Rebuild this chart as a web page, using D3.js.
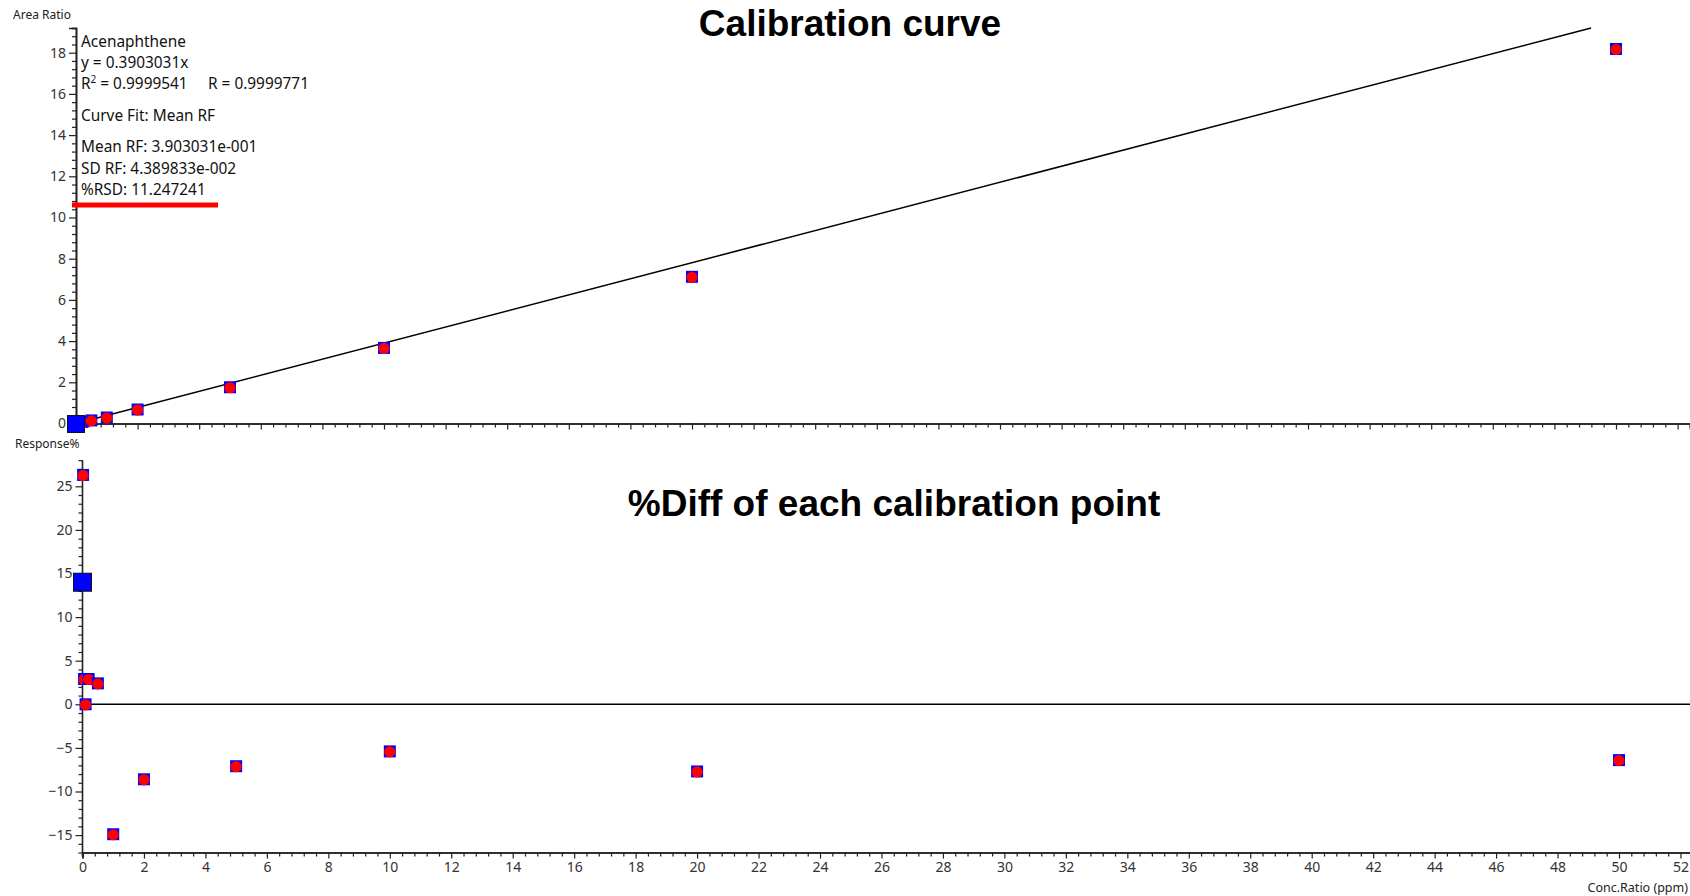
<!DOCTYPE html>
<html>
<head>
<meta charset="utf-8">
<script src="https://cdn.jsdelivr.net/npm/d3@7"></script>
<style>
  html, body { margin: 0; padding: 0; background: #fff; }
  svg { display: block; }
  .tick text { font-family: "Noto Sans", "Open Sans", sans-serif; fill: #333; }
</style>
</head>
<body>
<svg id="chart" width="1690" height="896"></svg>
<script>
// Calibration levels (ppm) and measured responses for Acenaphthene
const concLevels = [0.02, 0.05, 0.1, 0.2, 0.5, 1, 2, 5, 10, 20, 50];
const areaRatios = [0.01, 0.02, 0.04, 0.08, 0.15, 0.29, 0.68, 1.76, 3.67, 7.12, 18.18];
const pctDiff    = [26.3, 2.9, 0.0, 2.9, 2.4, -14.9, -8.6, -7.1, -5.4, -7.7, -6.4];

// Currently selected point (drawn as the large marker)
const selConc = [0];
const selArea = [0];
const selDiff = [14.0];

// Fit summary
const compoundName = "Acenaphthene";
const slope = 0.3903031;
const fitLines = [
  "y = 0.3903031x",
  "R2LINE",
  "Curve Fit: Mean RF",
  "Mean RF: 3.903031e-001",
  "SD RF: 4.389833e-002",
  "%RSD: 11.247241"
];

// Axis tick settings
const topYMajor = d3.range(0, 19.21, 2);
const topYMinor = d3.range(0, 19.21, 0.4);
const botYMajor = d3.range(-15, 28.1, 5);
const botYMinor = d3.range(-17, 28.1, 1);
const xMajor = d3.range(0, 52.4, 2);
const xMinor = d3.range(0, 52.4, 0.4);

const svg = d3.select("#chart");
const font = '"Noto Sans", "Open Sans", sans-serif';
const axisColor = "#222";

// ---------- Scales ----------
const xTop = d3.scaleLinear().domain([0, 52.4]).range([76, 76 + 52.4 * 30.8]);
const yTop = d3.scaleLinear().domain([0, 19.2]).range([423.5, 423.5 - 19.2 * 20.6]);
const xBot = d3.scaleLinear().domain([0, 52.35]).range([82.5, 82.5 + 52.35 * 30.73]);
const yBot = d3.scaleLinear().domain([-17, 28]).range([704.3 + 17 * 8.72, 704.3 - 28 * 8.72]);

const isMajor = (v, step) => Math.abs(v / step - Math.round(v / step)) < 1e-6;

function styleAxis(g) {
  g.select(".domain").attr("stroke", axisColor).attr("stroke-width", 1.6);
  g.selectAll(".tick line").attr("stroke", axisColor).attr("stroke-width", 1.2);
}

// ---------- Upper panel: calibration curve ----------
const calPanel = svg.append("g");

calPanel.append("g")
  .attr("transform", `translate(${xTop(0)},0)`)
  .call(d3.axisLeft(yTop).tickValues(topYMinor.filter(v => !isMajor(v, 2))).tickSize(4).tickFormat(""))
  .call(styleAxis);
calPanel.append("g")
  .attr("transform", `translate(${xTop(0)},0)`)
  .call(d3.axisLeft(yTop).tickValues(topYMajor).tickSize(7).tickPadding(3).tickFormat(d3.format("d")))
  .call(styleAxis)
  .call(g => g.selectAll(".tick text").style("font-size", "14px"));

calPanel.append("g")
  .attr("transform", `translate(0,${yTop(0)})`)
  .call(d3.axisBottom(xTop).tickValues(xMinor.filter(v => !isMajor(v, 2))).tickSize(4).tickFormat(""))
  .call(styleAxis);
calPanel.append("g")
  .attr("transform", `translate(0,${yTop(0)})`)
  .call(d3.axisBottom(xTop).tickValues(xMajor).tickSize(6).tickFormat(""))
  .call(styleAxis);

// fitted line y = slope * x, up to the top of the plot
const xEnd = yTop.domain()[1] / slope;
calPanel.append("line")
  .attr("x1", xTop(0)).attr("y1", yTop(0))
  .attr("x2", xTop(xEnd)).attr("y2", yTop(slope * xEnd))
  .attr("stroke", "#000").attr("stroke-width", 1.5);

// calibration points
const calPts = calPanel.append("g").selectAll("g")
  .data(concLevels.map((c, i) => ({ x: c, y: areaRatios[i] })))
  .join("g")
  .attr("transform", d => `translate(${xTop(d.x)},${yTop(d.y)})`);
calPts.append("rect").attr("x", -6).attr("y", -6).attr("width", 12).attr("height", 12).attr("fill", "#0000ff");
calPts.append("circle").attr("r", 5.6).attr("cy", 0.5).attr("fill", "#ff0000");

// selected point
calPanel.append("g").selectAll("rect")
  .data(selConc.map((c, i) => ({ x: c, y: selArea[i] })))
  .join("rect")
  .attr("x", d => xTop(d.x) - 8.5).attr("y", d => yTop(d.y) - 8)
  .attr("width", 17).attr("height", 17)
  .attr("fill", "#0000ff").attr("stroke", "#111").attr("stroke-width", 1);

// axis title
svg.append("text").attr("x", 13).attr("y", 19).attr("font-family", font)
  .attr("font-size", 12).attr("fill", "#222").text("Area Ratio");

// fit summary text
const info = svg.append("g").attr("font-family", font).attr("font-size", 15.4).attr("fill", "#111");
const baselines = [68, 88.5, 121, 152, 173.5, 195];
info.append("text").attr("x", 81).attr("y", 47).text(compoundName);
fitLines.forEach((t, i) => {
  const txt = info.append("text").attr("x", 81).attr("y", baselines[i]);
  if (t === "R2LINE") {
    txt.append("tspan").text("R");
    txt.append("tspan").attr("dy", -5.5).attr("font-size", 10).text("2");
    txt.append("tspan").attr("dy", 5.5).text(" = 0.9999541");
    txt.append("tspan").attr("x", 208).text("R = 0.9999771");
  } else {
    txt.text(t);
  }
});
// red underline beneath the RSD value
svg.append("line").attr("x1", 72).attr("x2", 218).attr("y1", 205).attr("y2", 205)
  .attr("stroke", "#ff0000").attr("stroke-width", 4.8);

// title
svg.append("text").attr("x", 850).attr("y", 36).attr("text-anchor", "middle")
  .attr("font-family", '"Liberation Sans", Arial, sans-serif').attr("font-weight", "bold")
  .attr("font-size", 37).attr("fill", "#000").text("Calibration curve");

// ---------- Lower panel: %Diff ----------
const diffPanel = svg.append("g");

diffPanel.append("g")
  .attr("transform", `translate(${xBot(0)},0)`)
  .call(d3.axisLeft(yBot).tickValues(botYMinor.filter(v => !isMajor(v, 5))).tickSize(4).tickFormat(""))
  .call(styleAxis)
  .call(g => g.select(".domain").attr("d", `M0,${yBot(28)}V${yBot(-17) + 4}`));
diffPanel.append("g")
  .attr("transform", `translate(${xBot(0)},0)`)
  .call(d3.axisLeft(yBot).tickValues(botYMajor).tickSize(7).tickPadding(3).tickFormat(d3.format("d")))
  .call(styleAxis)
  .call(g => g.select(".domain").remove())
  .call(g => g.selectAll(".tick text").style("font-size", "14px"));

diffPanel.append("g")
  .attr("transform", `translate(0,${yBot(-17)})`)
  .call(d3.axisBottom(xBot).tickValues(xMinor.filter(v => !isMajor(v, 2))).tickSize(4).tickFormat(""))
  .call(styleAxis);
diffPanel.append("g")
  .attr("transform", `translate(0,${yBot(-17)})`)
  .call(d3.axisBottom(xBot).tickValues(xMajor).tickSize(6).tickPadding(4).tickFormat(d3.format("d")))
  .call(styleAxis)
  .call(g => g.selectAll(".tick text").style("font-size", "14px"));

// zero reference line
diffPanel.append("line")
  .attr("x1", xBot(0)).attr("x2", xBot(52.35))
  .attr("y1", yBot(0)).attr("y2", yBot(0))
  .attr("stroke", "#000").attr("stroke-width", 1.5);

const diffPts = diffPanel.append("g").selectAll("g")
  .data(concLevels.map((c, i) => ({ x: c, y: pctDiff[i] })))
  .join("g")
  .attr("transform", d => `translate(${xBot(d.x)},${yBot(d.y)})`);
diffPts.append("rect").attr("x", -6).attr("y", -6).attr("width", 12).attr("height", 12).attr("fill", "#0000ff");
diffPts.append("circle").attr("r", 5.6).attr("cy", 0.5).attr("fill", "#ff0000");

diffPanel.append("g").selectAll("rect")
  .data(selConc.map((c, i) => ({ x: c, y: selDiff[i] })))
  .join("rect")
  .attr("x", d => xBot(d.x) - 9).attr("y", d => yBot(d.y) - 9)
  .attr("width", 18).attr("height", 18)
  .attr("fill", "#0000ff").attr("stroke", "#111").attr("stroke-width", 1);

svg.append("text").attr("x", 15).attr("y", 448).attr("font-family", font)
  .attr("font-size", 12).attr("fill", "#222").text("Response%");
svg.append("text").attr("x", 1688).attr("y", 892).attr("text-anchor", "end").attr("font-family", font)
  .attr("font-size", 12.5).attr("fill", "#222").text("Conc.Ratio (ppm)");

svg.append("text").attr("x", 894).attr("y", 516).attr("text-anchor", "middle")
  .attr("font-family", '"Liberation Sans", Arial, sans-serif').attr("font-weight", "bold")
  .attr("font-size", 37).attr("fill", "#000").text("%Diff of each calibration point");
</script>
</body>
</html>
